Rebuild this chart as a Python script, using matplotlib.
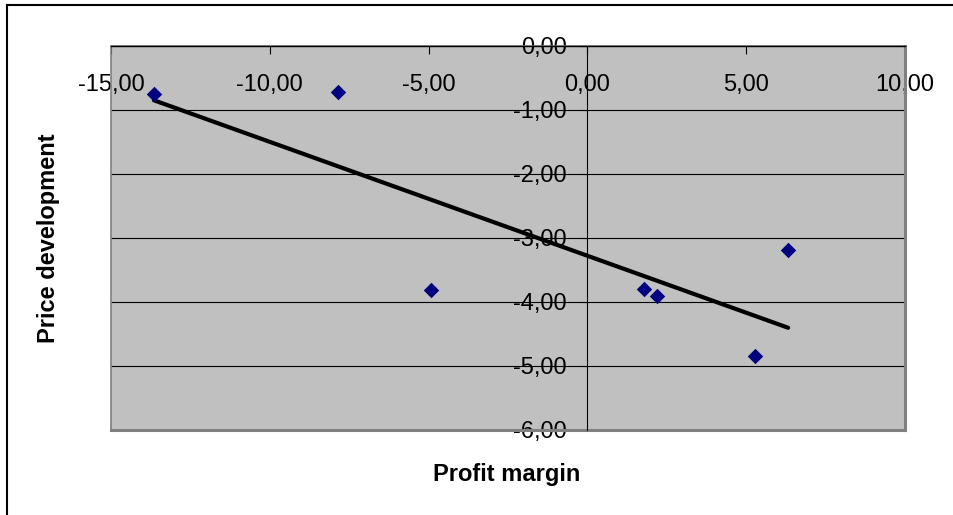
import numpy as np
import matplotlib
matplotlib.use("Agg")
import matplotlib.pyplot as plt
from matplotlib.lines import Line2D
from matplotlib.patches import Rectangle
from matplotlib.ticker import FuncFormatter

plt.rcParams['font.family'] = ['Liberation Sans', 'DejaVu Sans']

# Observations: profit margin vs. price development
profit_margin = [-13.65, -7.86, -4.91, 1.79, 2.18, 5.27, 6.32]
price_development = [-0.75, -0.72, -3.81, -3.80, -3.91, -4.84, -3.18]

x_ticks = [-15, -10, -5, 0, 5, 10]
y_ticks = [0, -1, -2, -3, -4, -5, -6]

W, H = 954, 515
fig = plt.figure(figsize=(W / 100, H / 100), dpi=100)
left, right, top, bottom = 111, 905, 46, 430
ax = fig.add_axes([left / W, 1 - bottom / H, (right - left) / W, (bottom - top) / H])

ax.set_xlim(-15, 10)
ax.set_ylim(-6, 0)
ax.set_facecolor('#C0C0C0')

# Horizontal gridlines
for yv in y_ticks[1:-1]:
    ax.axhline(yv, color='black', lw=0.8, zorder=1)

# Plot-area border
ax.add_patch(Rectangle((0, 0), 1, 1, transform=ax.transAxes, fill=False,
                       edgecolor='#808080', lw=1.2, zorder=2, clip_on=False))
ax.plot([1, 1], [0, 1], transform=ax.transAxes, color='#808080', lw=2.2,
        zorder=2, clip_on=False, solid_capstyle='projecting')
ax.plot([0, 1], [0, 0], transform=ax.transAxes, color='#808080', lw=2.2,
        zorder=2, clip_on=False, solid_capstyle='projecting')

# Axes crossing at the origin
for s in ['right', 'bottom']:
    ax.spines[s].set_visible(False)
ax.spines['top'].set_color('black')
ax.spines['top'].set_linewidth(1.0)
ax.spines['left'].set_position(('data', 0))
ax.spines['left'].set_color('black')
ax.spines['left'].set_linewidth(0.8)
ax.spines['top'].set_zorder(3)
ax.spines['left'].set_zorder(3)

fmt = FuncFormatter(lambda v, p: f"{v:.2f}".replace('.', ',').replace('-0,00', '0,00'))
ax.set_xticks(x_ticks)
ax.set_yticks(y_ticks)
ax.xaxis.set_major_formatter(fmt)
ax.yaxis.set_major_formatter(fmt)

ax.tick_params(axis='x', top=True, bottom=False, labeltop=True, labelbottom=False,
               direction='in', length=6, width=0.8, pad=-36, labelsize=17)
ax.tick_params(axis='y', left=True, direction='out', length=6, width=0.8,
               pad=9, labelsize=17)

# Data points and linear trendline
ax.scatter(profit_margin, price_development, marker='D', s=62, color='#000080',
           zorder=5, linewidths=0)
xs = np.array(profit_margin)
slope, intercept = np.polyfit(xs, np.array(price_development), 1)
xl = np.array([xs.min(), xs.max()])
ax.plot(xl, slope * xl + intercept, color='black', lw=3, zorder=4,
        solid_capstyle='round')

fig.text(49 / W, 1 - 238 / H, 'Price development', rotation=90, ha='center',
         va='center', fontsize=17, fontweight='bold')
fig.text(507 / W, 1 - 474 / H, 'Profit margin', ha='center', va='center',
         fontsize=17, fontweight='bold')

# Chart frame
fig.add_artist(Line2D([7.5 / W, 1], [1 - 5 / H, 1 - 5 / H], color='black', lw=1.5))
fig.add_artist(Line2D([7.5 / W, 7.5 / W], [0, 1 - 5 / H], color='black', lw=1.5))

fig.savefig('out.png', dpi=100)
